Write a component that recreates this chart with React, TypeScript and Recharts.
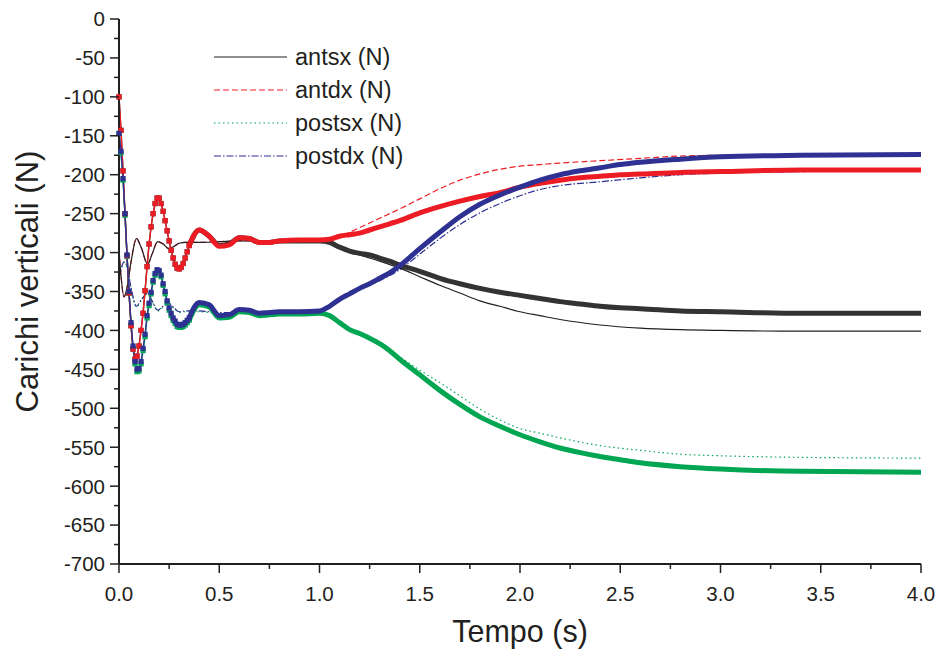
import { LineChart, Line, XAxis, YAxis } from 'recharts';

// time grids (s)
const tFine = [0, 0.01, 0.02, 0.03, 0.04, 0.05, 0.06, 0.07, 0.08, 0.09, 0.1, 0.11, 0.12, 0.13, 0.14, 0.15, 0.16, 0.17, 0.18, 0.19, 0.2, 0.21, 0.22, 0.23, 0.24, 0.25, 0.26, 0.27, 0.28, 0.29, 0.3, 0.31, 0.32, 0.33, 0.34, 0.35];
const tCoarse = [0.35, 0.4, 0.45, 0.5, 0.55, 0.6, 0.65, 0.7, 0.75, 0.8, 0.9, 1.0, 1.05, 1.1, 1.15, 1.2, 1.25, 1.3, 1.35, 1.4, 1.5, 1.6, 1.7, 1.8, 1.9, 2.0, 2.1, 2.2, 2.3, 2.4, 2.5, 2.6, 2.8, 3.0, 3.4, 4.0];
const tThin = [0, 0.01, 0.025, 0.04, 0.06, 0.087, 0.11, 0.143, 0.165, 0.193, 0.22, 0.248, 0.275, 0.3, 0.33, 0.4, 0.5, 0.6, 0.8, 1.0, 1.05, 1.1, 1.15, 1.2, 1.3, 1.4, 1.5, 1.6, 1.7, 1.8, 1.9, 2.0, 2.1, 2.2, 2.4, 2.6, 2.8, 3.0, 3.4, 4.0];

// thin curves (legend series)
const antsx = [-297, -330, -357, -345, -312, -282, -293, -315, -302, -286, -289, -295, -292, -288, -287, -287, -286, -285, -285, -285, -287, -293, -298, -303, -311, -320, -331, -342, -352, -362, -369, -376, -381, -386, -393, -397, -399, -400, -401, -401];
const antdx = [-297, -330, -357, -345, -312, -282, -293, -315, -302, -286, -289, -295, -292, -288, -287, -287, -286, -285, -285, -284, -283, -279, -274, -268, -256, -244, -231, -218, -207, -199, -193, -189, -187, -185, -182, -179, -176, -175, -174, -174];
const postsx = [-336, -323, -313, -319, -346, -370, -362, -353, -363, -375, -370, -366, -372, -377, -376, -376, -378, -378, -378, -378, -381, -390, -399, -404, -416, -434, -451, -467, -484, -501, -515, -526, -532, -538, -548, -554, -559, -561, -563, -564];
const postdx = [-335, -322, -312, -318, -345, -369, -361, -352, -362, -374, -369, -365, -371, -376, -375, -375, -377, -377, -377, -377, -371, -362, -355, -348, -336, -322, -302, -282, -264, -249, -237, -227, -219, -214, -209, -204, -200, -198, -196, -195];

// thick marked curves, early part (fine) and later part (coarse)
const blackFine = [-100, -143, -195, -250, -304, -352, -394, -424, -437, -433, -420, -400, -378, -349, -318, -289, -267, -250, -237, -230, -230, -237, -247, -259, -272, -285, -297, -307, -315, -320, -321, -319, -314, -307, -299, -291];
const blackCoarse = [-291, -271, -279, -291, -289, -281, -282, -287, -287, -285, -285, -285, -287, -293, -298, -301, -303, -307, -311, -316, -324, -333, -340, -346, -351, -355, -359, -363, -366, -369, -371, -372, -375, -376, -378, -378];
const redFine = [-100, -143, -195, -250, -304, -352, -394, -424, -437, -433, -420, -400, -378, -349, -318, -289, -267, -250, -237, -230, -230, -237, -247, -259, -272, -285, -297, -307, -315, -320, -321, -319, -314, -307, -299, -291];
const redCoarse = [-291, -271, -279, -292, -290, -281, -282, -287, -287, -285, -284, -284, -283, -279, -277, -275, -271, -267, -263, -259, -249, -241, -234, -228, -223, -216, -211, -207, -204, -202, -200, -199, -197, -196, -194, -194];
const greenFine = [-147, -172, -207, -252, -305, -352, -393, -423, -443, -453, -452, -443, -426, -408, -384, -368, -353, -338, -329, -324, -325, -331, -342, -353, -364, -374, -381, -387, -391, -395, -396, -396, -395, -393, -390, -387];
const greenCoarse = [-387, -367, -370, -384, -383, -376, -377, -381, -380, -379, -379, -378, -381, -390, -399, -404, -410, -417, -426, -437, -457, -477, -495, -511, -523, -534, -543, -551, -557, -562, -566, -570, -575, -578, -581, -582];
const blueFine = [-147, -170, -205, -250, -303, -350, -390, -420, -440, -450, -449, -440, -423, -405, -381, -365, -351, -336, -327, -322, -323, -329, -340, -350, -362, -371, -378, -384, -388, -392, -393, -393, -392, -390, -387, -384];
const blueCoarse = [-384, -364, -367, -381, -380, -373, -374, -378, -377, -376, -376, -375, -369, -360, -353, -346, -340, -333, -326, -317, -295, -274, -254, -238, -226, -216, -207, -200, -195, -191, -187, -184, -180, -177, -175, -174];

const xTicks = [0, 0.25, 0.5, 0.75, 1, 1.25, 1.5, 1.75, 2, 2.25, 2.5, 2.75, 3, 3.25, 3.5, 3.75, 4];
const yTicks = [0, -25, -50, -75, -100, -125, -150, -175, -200, -225, -250, -275, -300, -325, -350, -375, -400, -425, -450, -475, -500, -525, -550, -575, -600, -625, -650, -675, -700];

const legendItems = [
  { name: 'antsx (N)', color: '#231f20', dash: undefined },
  { name: 'antdx (N)', color: '#ed1c24', dash: '6 3' },
  { name: 'postsx (N)', color: '#00a651', dash: '1.5 3' },
  { name: 'postdx (N)', color: '#2e3192', dash: '7 2 1.5 2' },
];

const FONT = '"Liberation Sans", Arial, sans-serif';
const INK = '#231f20';

const pts = (ts: number[], vs: number[]) => ts.map((t, i) => ({ t, v: vs[i] }));

const XTick = (p: any) => {
  const major = Math.abs((p.payload.value * 2) % 1) < 1e-6;
  return (
    <g>
      <line x1={p.x} x2={p.x} y1={p.y} y2={p.y + (major ? 9 : 5)} stroke={INK} strokeWidth={1.5} />
      {major && (
        <text x={p.x} y={p.y + 37} textAnchor="middle" fontSize={20.5} fontFamily={FONT} fill={INK}>
          {p.payload.value.toFixed(1)}
        </text>
      )}
    </g>
  );
};

const YTick = (p: any) => {
  const major = p.payload.value % 50 === 0;
  return (
    <g>
      <line x1={p.x - (major ? 9 : 5)} x2={p.x} y1={p.y} y2={p.y} stroke={INK} strokeWidth={1.5} />
      {major && (
        <text x={p.x - 14} y={p.y} dy="0.36em" textAnchor="end" fontSize={20.5} fontFamily={FONT} fill={INK}>
          {p.payload.value}
        </text>
      )}
    </g>
  );
};

const squareDot = (color: string, id: string) => (p: any) => (
  <rect key={`${id}-${p.index}`} x={p.cx - 2.6} y={p.cy - 2.6} width={5.2} height={5.2} fill={color} />
);

const thin = [
  { id: 'postsx', vs: postsx, color: '#00a651', dash: '1.5 3' },
  { id: 'postdx', vs: postdx, color: '#2e3192', dash: '7 2 1.5 2' },
  { id: 'antdx', vs: antdx, color: '#ed1c24', dash: '6 3' },
  { id: 'antsx', vs: antsx, color: INK, dash: undefined },
];

const thick = [
  { id: 'kBlack', fine: blackFine, coarse: blackCoarse, color: '#333333' },
  { id: 'kGreen', fine: greenFine, coarse: greenCoarse, color: '#00a651' },
  { id: 'kRed', fine: redFine, coarse: redCoarse, color: '#ed1c24' },
  { id: 'kBlue', fine: blueFine, coarse: blueCoarse, color: '#2e3192' },
];

export default function App() {
  return (
    <div style={{ position: 'absolute', left: 0, top: 0, width: 937, height: 650, background: '#fff' }}>
      <LineChart width={937} height={650} margin={{ top: 19, right: 16, bottom: 0, left: 0 }}>
        <XAxis
          type="number"
          dataKey="t"
          domain={[0, 4]}
          ticks={xTicks}
          interval={0}
          tickSize={0}
          tickMargin={0}
          tickLine={false}
          tick={XTick}
          height={86}
          axisLine={{ stroke: INK, strokeWidth: 2 }}
          label={{
            content: ({ viewBox }: any) => (
              <text x={viewBox.x + viewBox.width / 2} y={viewBox.y + 78} textAnchor="middle" fontSize={30.5} fontFamily={FONT} fill={INK}>
                Tempo (s)
              </text>
            ),
          }}
        />
        <YAxis
          type="number"
          domain={[-700, 0]}
          ticks={yTicks}
          interval={0}
          width={119}
          tickSize={0}
          tickMargin={0}
          tickLine={false}
          tick={YTick}
          axisLine={{ stroke: INK, strokeWidth: 2 }}
          label={{
            content: ({ viewBox }: any) => {
              const cx = viewBox.x + 38;
              const cy = viewBox.y + viewBox.height / 2 - 10;
              return (
                <text x={cx} y={cy} transform={`rotate(-90 ${cx} ${cy})`} textAnchor="middle" fontSize={31} fontFamily={FONT} fill={INK}>
                  Carichi verticali (N)
                </text>
              );
            },
          }}
        />
        {thin.map((s) => (
          <Line
            key={s.id}
            data={pts(tThin, s.vs)}
            dataKey="v"
            type="monotone"
            stroke={s.color}
            strokeWidth={1.2}
            strokeDasharray={s.dash}
            dot={false}
            activeDot={false}
            isAnimationActive={false}
          />
        ))}
        {thick.map((s) => [
          <Line
            key={s.id + 'f'}
            data={pts(tFine, s.fine)}
            dataKey="v"
            type="linear"
            stroke={s.color}
            strokeWidth={1.4}
            dot={squareDot(s.color, s.id)}
            activeDot={false}
            isAnimationActive={false}
          />,
          <Line
            key={s.id + 'c'}
            data={pts(tCoarse, s.coarse)}
            dataKey="v"
            type="monotone"
            stroke={s.color}
            strokeWidth={5}
            dot={false}
            activeDot={false}
            isAnimationActive={false}
          />,
        ])}
      </LineChart>
      <svg style={{ position: 'absolute', left: 205, top: 38 }} width={240} height={140}>
        {legendItems.map((it, i) => {
          const y = 19 + i * 33;
          return (
            <g key={it.name}>
              <line x1={9} x2={82} y1={y} y2={y} stroke={it.color} strokeWidth={1.2} strokeDasharray={it.dash} />
              <text x={90} y={y} dy="0.36em" fontSize={23.5} fontFamily={FONT} fill={INK}>
                {it.name}
              </text>
            </g>
          );
        })}
      </svg>
    </div>
  );
}
